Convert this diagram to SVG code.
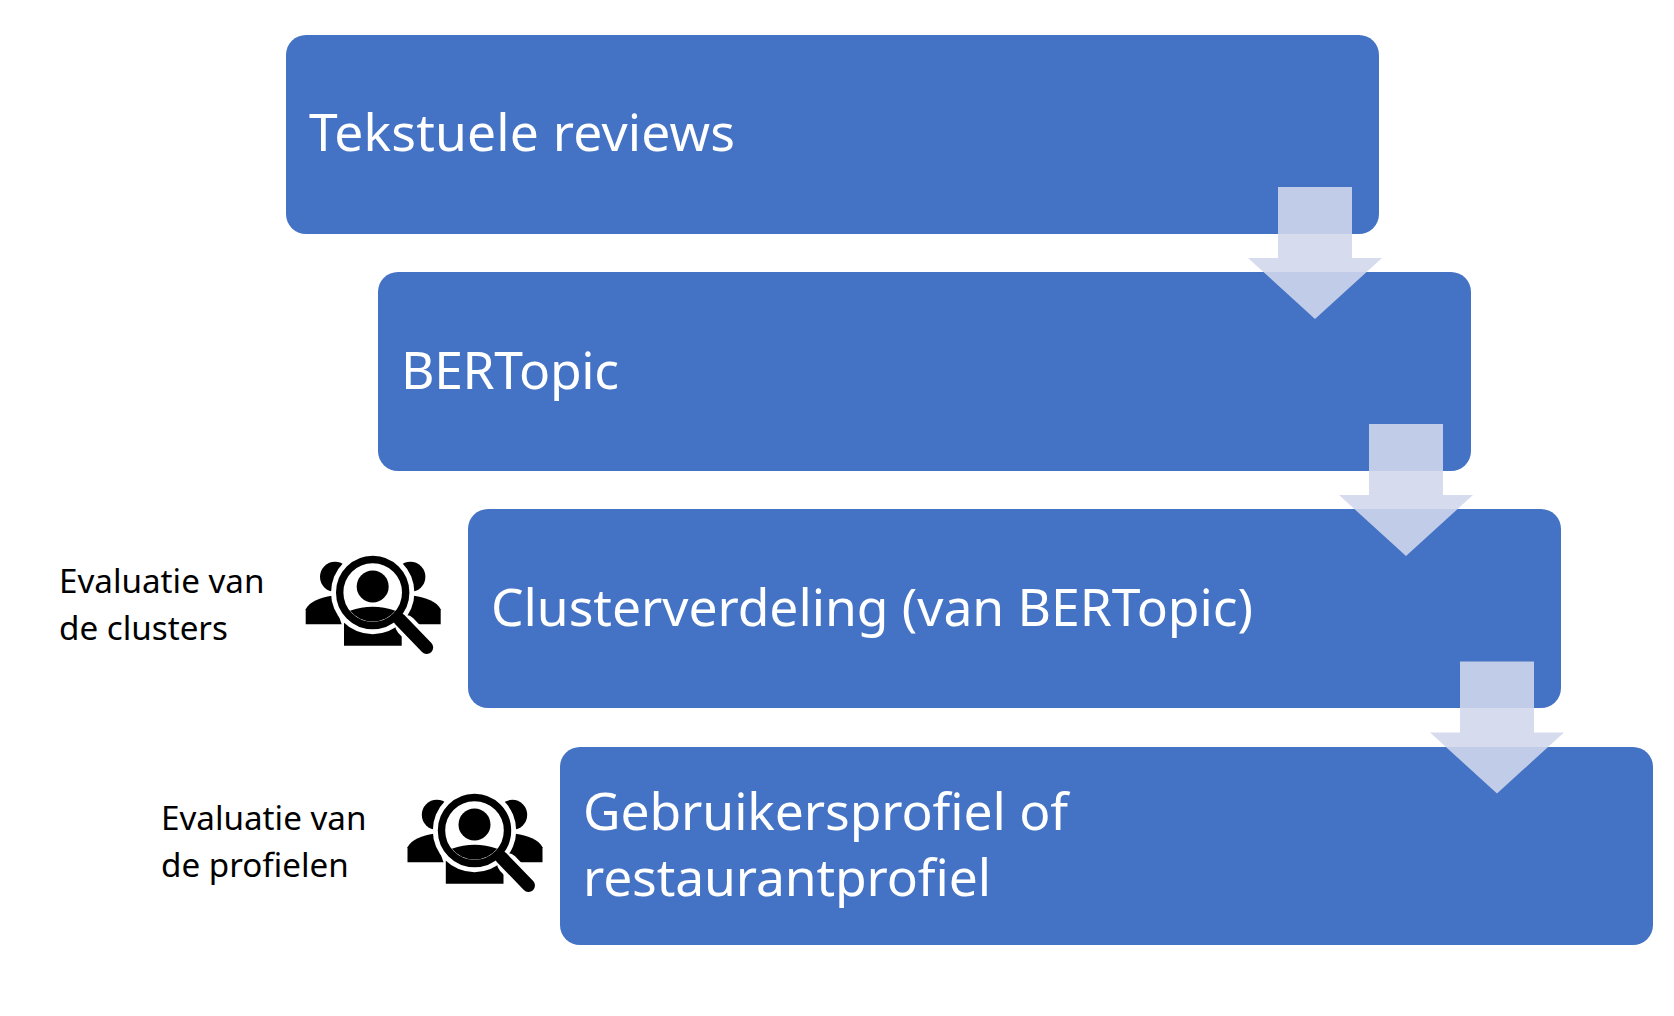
<svg xmlns="http://www.w3.org/2000/svg" xmlns:xlink="http://www.w3.org/1999/xlink" width="1674" height="1016" viewBox="0 0 1674 1016">
<style>
.box{fill:#4472c4}
.t{font-family:"Noto Sans","Open Sans",sans-serif;font-size:51.600px;fill:#fff}
.l{font-family:"Noto Sans","Open Sans",sans-serif;font-size:33.200px;fill:#000}
.arrow{fill:#d1d8ec;fill-opacity:.89}
</style>
<defs>
<g id="icon">
<circle cx="-37.700" cy="-15.700" r="15" fill="#000"/>
<circle cx="37.700" cy="-15.700" r="15" fill="#000"/>
<path d="M-67 31.700V16.700C-63 9-52 5-41 3.300L-31 31.700Z" fill="#000"/>
<path d="M68 31.700V16.700C64 9 53 5 41 3.300L31 31.700Z" fill="#000"/>
<path d="M-28.700 53.300V30H29V53.300Z" fill="#000"/>
<circle cx="0" cy="0" r="41.700" fill="#fff"/>
<circle cx="0" cy="0" r="33" fill="none" stroke="#000" stroke-width="7.400"/>
<circle cx="0" cy="-6" r="16" fill="#000"/>
<path d="M-22.700 18.300Q0 10 22.700 18.300A29.300 29.300 0 0 1-22.700 18.300Z" fill="#000"/>
<path d="M33 33L54 55" stroke="#fff" stroke-width="21" stroke-linecap="round" fill="none"/>
<path d="M27 27L54 55" stroke="#000" stroke-width="13" stroke-linecap="round" fill="none"/>
</g>
<path id="arr" class="arrow" d="M1278 187H1352V258H1382L1315 319L1248 258H1278Z"/>
</defs>
<rect width="1674" height="1016" fill="#fff"/>
<g id="node-reviews"><rect class="box" x="286" y="35" width="1093" height="199" rx="20"/><text class="t" x="309" y="151" textLength="426">Tekstuele reviews</text></g>
<g id="node-bertopic"><rect class="box" x="378" y="272" width="1093" height="199" rx="20"/><text class="t" x="401" y="389" textLength="218">BERTopic</text></g>
<g id="node-cluster"><rect class="box" x="468" y="509" width="1093" height="199" rx="20"/><text class="t" x="491" y="626" textLength="762">Clusterverdeling (van BERTopic)</text></g>
<g id="node-profiel"><rect class="box" x="560" y="747" width="1093" height="198" rx="20"/><text class="t" x="583" y="830" textLength="485">Gebruikersprofiel of</text><text class="t" x="583" y="896" textLength="408">restaurantprofiel</text></g>
<g id="connectors">
<use xlink:href="#arr"/>
<use xlink:href="#arr" x="91" y="237"/>
<use xlink:href="#arr" x="182" y="474.500"/>
</g>
<g id="eval-clusters"><text class="l" x="59" y="593">Evaluatie van</text><text class="l" x="59" y="640">de clusters</text><use xlink:href="#icon" x="372.700" y="592.500"/></g>
<g id="eval-profielen"><text class="l" x="161" y="830">Evaluatie van</text><text class="l" x="161" y="877">de profielen</text><use xlink:href="#icon" x="474.500" y="830.500"/></g>
</svg>
